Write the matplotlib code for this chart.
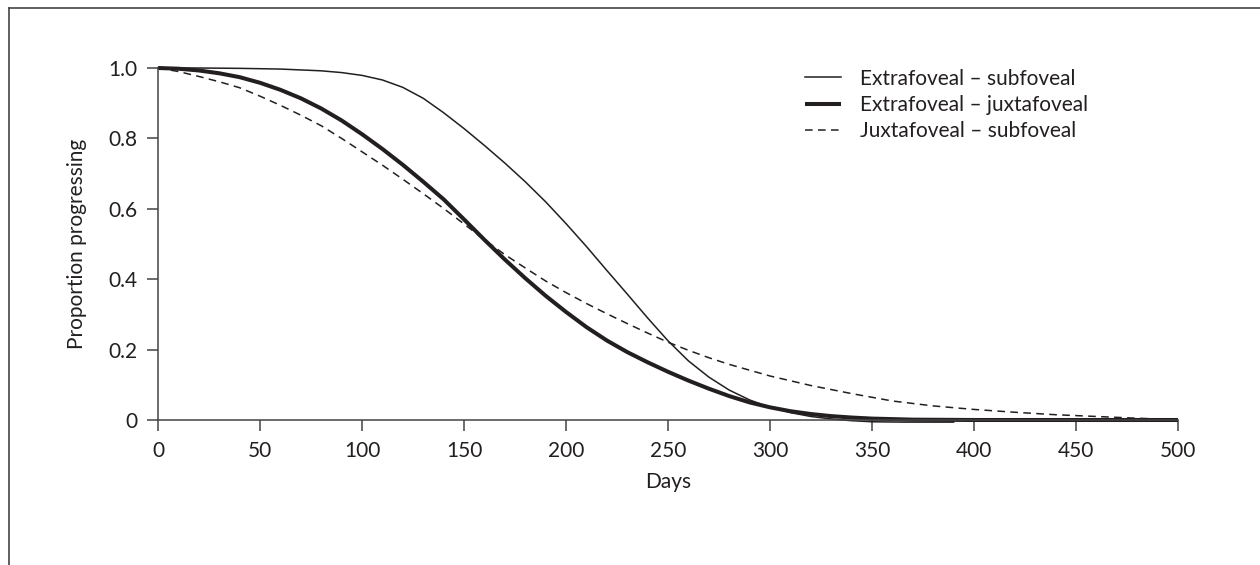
import matplotlib
matplotlib.use("Agg")
import matplotlib.pyplot as plt
from matplotlib.lines import Line2D

# Extrafoveal - subfoveal
extra_sub_days = [0, 20, 40, 60, 80, 90, 100, 110, 120, 130, 140, 150, 160, 170, 180,
                  190, 200, 210, 220, 230, 240, 250, 260, 270, 280, 290, 300, 310,
                  320, 330, 340, 350, 365, 390]
extra_sub = [1.000, 1.000, 0.999, 0.997, 0.992, 0.987, 0.979, 0.966, 0.945, 0.914,
             0.873, 0.828, 0.780, 0.730, 0.677, 0.620, 0.558, 0.493, 0.425, 0.358,
             0.290, 0.225, 0.168, 0.122, 0.085, 0.057, 0.036, 0.021, 0.010, 0.003,
             -0.002, -0.005, -0.006, -0.006]

# Extrafoveal - juxtafoveal
extra_juxta_days = [0, 10, 20, 30, 40, 50, 60, 70, 80, 90, 100, 110, 120, 130, 140,
                    150, 160, 170, 180, 190, 200, 210, 220, 230, 240, 250, 260, 270,
                    280, 290, 300, 310, 320, 330, 340, 350, 370, 400, 450, 500]
extra_juxta = [1.000, 0.998, 0.993, 0.985, 0.974, 0.958, 0.938, 0.914, 0.885, 0.851,
               0.812, 0.770, 0.725, 0.677, 0.627, 0.570, 0.512, 0.456, 0.403, 0.353,
               0.307, 0.264, 0.226, 0.193, 0.164, 0.137, 0.112, 0.089, 0.068, 0.050,
               0.036, 0.025, 0.017, 0.011, 0.007, 0.004, 0.001, 0.000, 0.000, 0.000]

# Juxtafoveal - subfoveal
juxta_sub_days = [0, 10, 20, 30, 40, 50, 60, 70, 80, 90, 100, 110, 120, 130, 140, 150,
                  160, 170, 180, 190, 200, 210, 220, 230, 240, 250, 260, 270, 280,
                  300, 320, 340, 360, 380, 400, 420, 440, 460, 480, 500]
juxta_sub = [1.000, 0.990, 0.976, 0.961, 0.944, 0.920, 0.894, 0.866, 0.836, 0.800,
             0.762, 0.724, 0.684, 0.643, 0.601, 0.557, 0.512, 0.470, 0.432, 0.395,
             0.362, 0.331, 0.302, 0.274, 0.247, 0.221, 0.198, 0.177, 0.158, 0.125,
             0.098, 0.075, 0.054, 0.040, 0.030, 0.022, 0.015, 0.010, 0.005, 0.001]

labels = ["Extrafoveal – subfoveal", "Extrafoveal – juxtafoveal", "Juxtafoveal – subfoveal"]
x_ticks = [0, 50, 100, 150, 200, 250, 300, 350, 400, 450, 500]
y_ticks = [0, 0.2, 0.4, 0.6, 0.8, 1.0]
y_tick_labels = ["0", "0.2", "0.4", "0.6", "0.8", "1.0"]

ink = "#231f20"
plt.rcParams["font.family"] = ["Lato", "DejaVu Sans"]
fs = 15

fig = plt.figure(figsize=(12.6, 5.65), dpi=100)
ax = fig.add_axes([158 / 1260, 1 - 420 / 565, 1020 / 1260, 352 / 565])

ax.plot(extra_sub_days, extra_sub, color=ink, lw=1.1, clip_on=False, label=labels[0])
ax.plot(extra_juxta_days, extra_juxta, color=ink, lw=2.9, clip_on=False,
        solid_capstyle="butt", label=labels[1])
ax.plot(juxta_sub_days, juxta_sub, color=ink, lw=1.1, ls=(0, (5, 3.5)),
        clip_on=False, label=labels[2])

ax.set_xlim(0, 500)
ax.set_ylim(0, 1.0)
ax.set_xticks(x_ticks)
ax.set_xticklabels([str(t) for t in x_ticks])
ax.set_yticks(y_ticks)
ax.set_yticklabels(y_tick_labels)

for side in ["top", "right"]:
    ax.spines[side].set_visible(False)
for side in ["left", "bottom"]:
    ax.spines[side].set_color("#444444")
    ax.spines[side].set_linewidth(1.1)
ax.tick_params(direction="out", length=8, width=1.1, color="#444444",
               labelcolor=ink, labelsize=fs, pad=7)

ax.set_xlabel("Days", color=ink, fontsize=fs, labelpad=8)
ax.set_ylabel("Proportion progressing", color=ink, fontsize=fs, labelpad=15)

leg = ax.legend(loc="upper left", bbox_to_anchor=(786 / 1260, 1 - 50 / 565),
                bbox_transform=fig.transFigure, frameon=False, handlelength=1.75,
                handletextpad=0.9, labelspacing=0.3, fontsize=fs)
for t in leg.get_texts():
    t.set_color(ink)

# outer frame (top and left edges visible)
fx, fy = 9 / 1260, 1 - 8 / 565
fig.add_artist(Line2D([fx, fx], [0, fy], transform=fig.transFigure, color="#444444", lw=1.2))
fig.add_artist(Line2D([fx, 1], [fy, fy], transform=fig.transFigure, color="#444444", lw=1.2))

fig.savefig("out.png", dpi=100)
